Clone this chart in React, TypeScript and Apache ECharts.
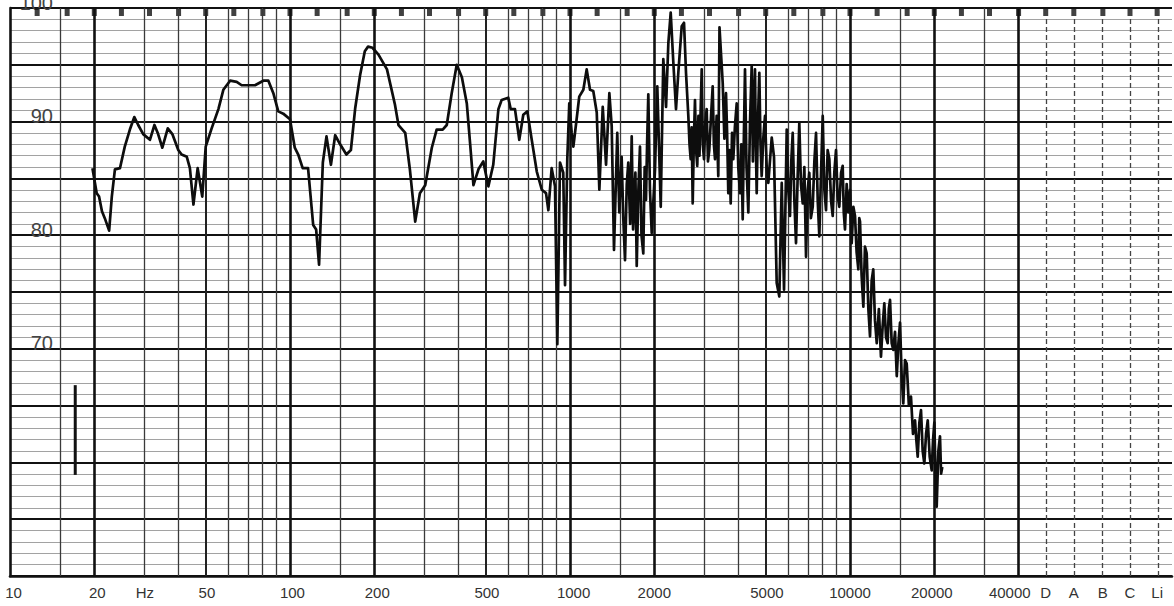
import React, { useEffect, useRef } from 'react';
import * as echarts from 'echarts';

// Frequency response trace as [frequency Hz, level dB]
const responseLow: number[][] = [
  [19.7, 85.9], [20.4, 83.7], [20.8, 83.4], [21.3, 82.1], [21.8, 81.5], [22.6, 80.4], [23.1, 83.4], [23.7, 85.8], [24.7, 85.9], [25.7, 87.8],
  [26.8, 89.3], [27.8, 90.4], [28.7, 89.7], [29.9, 88.9], [31.6, 88.4], [32.8, 89.7], [33.7, 89.0], [35.0, 87.7], [36.6, 89.4], [38.0, 88.9],
  [39.9, 87.5], [41.0, 87.1], [42.8, 86.9], [43.9, 85.9], [45.2, 82.7], [46.8, 85.9], [48.6, 83.4], [50.0, 87.8], [52.5, 89.4], [55.5, 91.1],
  [57.8, 92.8], [61.1, 93.6], [64.5, 93.5], [67.2, 93.2], [75.0, 93.2], [80.3, 93.6], [83.7, 93.6], [87.2, 92.5], [90.8, 90.9], [94.6, 90.7],
  [100, 90.2], [104, 87.7], [107, 87.1], [111, 85.9], [116, 85.9], [121, 80.9], [124, 80.5], [127, 77.4], [131, 86.4], [135, 88.7],
  [140, 86.2], [145, 88.8], [151, 88.0], [159, 87.1], [165, 87.5], [171, 91.2], [178, 94.1], [185, 96.2], [190, 96.6], [197, 96.5],
  [207, 95.9], [222, 94.6], [237, 91.5], [244, 89.7], [258, 89.0], [268, 85.8], [280, 81.2], [291, 83.7], [304, 84.4], [321, 87.7],
  [334, 89.3], [351, 89.3], [363, 89.7], [378, 92.5], [394, 95.0], [411, 93.9], [428, 91.6], [440, 88.0], [452, 84.4], [471, 85.8],
  [490, 86.5], [511, 84.3], [532, 86.2], [555, 91.1], [570, 91.9], [602, 92.1], [614, 91.1], [636, 91.1], [659, 88.4], [681, 90.6],
  [704, 90.9], [730, 88.4], [761, 85.6], [793, 84.0], [821, 83.7], [837, 82.2], [860, 85.9], [884, 84.3], [901, 70.4], [921, 86.4],
  [946, 85.5], [960, 75.6], [978, 86.7], [994, 91.6], [1014, 89.0], [1028, 87.8], [1050, 89.7], [1079, 92.2], [1116, 92.8], [1147, 94.6],
  [1179, 92.8], [1211, 92.7],
];
const responseMid: number[][] = [
  [1246, 90.8], [1273, 84.0], [1309, 91.3], [1345, 86.2], [1382, 92.5], [1409, 89.6], [1436, 78.7], [1475, 89.0], [1500, 82.0], [1529, 86.9],
  [1550, 81.5], [1572, 77.8], [1595, 84.5], [1615, 86.4], [1640, 81.0], [1661, 88.7], [1680, 80.5], [1693, 82.5], [1712, 85.5], [1731, 77.3],
  [1755, 84.0], [1778, 87.8], [1800, 80.0], [1827, 78.4], [1848, 86.0], [1868, 83.1], [1885, 88.0], [1904, 92.4], [1930, 84.0], [1958, 80.2],
  [2012, 85.8], [2050, 93.1], [2109, 82.5], [2154, 95.5], [2203, 91.3], [2245, 96.9], [2289, 99.6], [2339, 95.2], [2391, 91.1], [2437, 94.3],
  [2506, 98.4], [2554, 98.7], [2596, 94.3], [2646, 90.5], [2672, 88.0], [2698, 86.7], [2720, 89.5], [2743, 82.8], [2770, 88.5], [2795, 91.9],
  [2820, 87.5], [2848, 86.1], [2875, 90.5], [2900, 87.0], [2954, 94.6], [2980, 88.0], [3010, 86.7], [3045, 90.0], [3077, 91.1], [3110, 86.5],
  [3144, 87.5], [3190, 90.5], [3233, 93.1], [3265, 88.0], [3295, 86.7], [3340, 90.5], [3385, 85.2], [3419, 98.3], [3511, 93.4], [3560, 88.5],
  [3607, 92.5], [3640, 89.0], [3676, 83.7], [3710, 87.5], [3749, 82.8], [3790, 89.0], [3830, 86.7], [3880, 89.5], [3939, 91.6], [3990, 86.0],
  [4047, 83.7], [4090, 88.0], [4138, 81.4], [4180, 89.0], [4217, 94.6], [4270, 86.0], [4334, 82.0], [4395, 90.0], [4456, 94.9], [4500, 86.5],
  [4540, 92.0], [4578, 94.6], [4610, 88.0], [4643, 83.7], [4690, 90.0], [4744, 94.3], [4790, 88.0], [4837, 85.2], [4900, 88.5], [4971, 90.5],
  [5040, 86.0], [5108, 84.6], [5253, 88.6], [5353, 86.9], [5473, 75.8], [5592, 74.6], [5704, 84.6], [5813, 75.2],
];
const responseHigh: number[][] = [
  [5943, 89.3], [6020, 84.0], [6105, 81.7], [6170, 86.5], [6243, 89.0], [6330, 83.0], [6415, 79.3], [6500, 85.0], [6591, 89.9], [6680, 84.5],
  [6779, 82.8], [6870, 86.0], [6965, 78.1], [7060, 84.0], [7156, 85.5], [7250, 81.5], [7360, 82.5], [7460, 86.5], [7563, 89.0], [7670, 83.0],
  [7771, 79.9], [7880, 85.5], [7991, 90.5], [8100, 84.0], [8211, 82.2], [8320, 87.5], [8437, 86.7], [8560, 83.0], [8675, 81.7], [8790, 85.5],
  [8913, 87.5], [9030, 83.5], [9158, 82.5], [9290, 85.5], [9417, 86.1], [9500, 82.0], [9596, 80.5], [9730, 84.5], [9860, 82.0], [10000, 84.0],
  [10140, 79.3], [10280, 82.5], [10420, 81.7], [10560, 78.5], [10710, 77.0], [10790, 81.5], [10860, 81.2], [11000, 76.5], [11160, 73.7], [11310, 79.0],
  [11470, 78.4], [11630, 73.5], [11790, 71.1], [11950, 76.0], [12110, 77.0], [12280, 72.5], [12460, 70.5], [12680, 73.5], [12900, 69.3], [13080, 72.0],
  [13260, 74.0], [13450, 71.0], [13630, 70.5], [13760, 73.5], [13900, 74.3], [14090, 70.5], [14280, 69.9], [14480, 71.5], [14690, 67.6], [14890, 70.5],
  [15090, 72.3], [15300, 67.5], [15500, 65.2], [15720, 69.0], [15940, 68.7], [16230, 65.0], [16510, 65.8], [16790, 62.5], [17070, 63.7], [17250, 62.0],
  [17450, 60.5], [17690, 63.5], [17930, 64.6], [18180, 61.0], [18430, 59.9], [18690, 62.5], [18950, 63.7], [19260, 60.5], [19580, 59.3], [19800, 62.0],
  [20010, 63.5], [20200, 59.0], [20400, 56.1], [20680, 61.0], [20960, 62.3], [21150, 59.0], [21360, 59.6],
];

// calibration bar drawn at the left
const calibFreqHz = [17.1, 17.1];
const calibDb = [58.9, 66.8];

// chart-paper grid
const majorGridHz = [20, 100, 200, 1000, 2000, 10000, 20000, 40000];
const mediumGridHz = [50, 500, 5000];
const minorGridHz = [15, 30, 40, 60, 70, 80, 90, 150, 300, 400, 600, 700, 800, 900, 1500, 3000, 4000, 6000, 7000, 8000, 9000, 15000, 30000];
const weightingHz = [50000, 63000, 80000, 100000, 125000];
const thirdOctaveHz = [
  12.5, 16, 20, 25, 31.5, 40, 50, 63, 80, 100, 125, 160, 200, 250, 315, 400, 500, 630, 800, 1000,
  1250, 1600, 2000, 2500, 3150, 4000, 5000, 6300, 8000, 10000, 12500, 16000, 20000, 25000, 31500, 40000,
  50000, 63000, 80000, 100000, 125000,
];

// axis labels (anchor frequency of each printed label)
const xLabelHz = [10.3, 20.5, 30.3, 50.5, 102, 205, 505, 1030, 2000, 5050, 10000, 19600, 37200, 50000, 63000, 80000, 100000, 125000];
const xLabelText = ['10', '20', 'Hz', '50', '100', '200', '500', '1000', '2000', '5000', '10000', '20000', '40000', 'D', 'A', 'B', 'C', 'Li'];
const yLabelDb = [70, 80, 90, 100];

const X_MIN = 1; // log10(10 Hz)
const X_MAX = 5.15;

const lg = (f: number) => Math.log10(f);

export default function App() {
  const ref = useRef<HTMLDivElement>(null);
  useEffect(() => {
    if (!ref.current) return;
    const chart = echarts.init(ref.current, undefined, { renderer: 'svg' });

    const vLine = (f: number, color: string, width: number, type: any = 'solid') => ({
      xAxis: lg(f),
      lineStyle: { color, width, type },
    });
    const gridMarks = [
      ...minorGridHz.map((f) => vLine(f, '#3a3a3a', 1.3)),
      ...mediumGridHz.map((f) => vLine(f, '#222', 2)),
      ...majorGridHz.map((f) => vLine(f, '#111', 2.6)),
      ...weightingHz.map((f) => vLine(f, '#444', 1.3, [5, 3])),
    ];

    const labelPos = xLabelHz.map(lg);
    const response = [...responseLow, ...responseMid, ...responseHigh];

    chart.setOption({
      animation: false,
      backgroundColor: '#fff',
      grid: { left: 10, right: 2, top: 8, bottom: 30, containLabel: false, outerBoundsMode: 'none' },
      xAxis: {
        type: 'value',
        min: X_MIN,
        max: X_MAX,
        splitLine: { show: false },
        axisTick: { show: false },
        axisLine: { show: true, lineStyle: { color: '#111', width: 2.6 } },
        axisLabel: {
          customValues: labelPos,
          margin: 9,
          fontSize: 15,
          fontFamily: 'Liberation Sans, Arial, sans-serif',
          color: '#333',
          formatter: (v: number) => {
            let best = 0;
            let bd = Infinity;
            labelPos.forEach((p, i) => {
              const d = Math.abs(p - v);
              if (d < bd) { bd = d; best = i; }
            });
            return xLabelText[best];
          },
        },
      },
      yAxis: [
        {
          type: 'value',
          min: 50,
          max: 100,
          interval: 1,
          axisLine: { show: false },
          axisTick: { show: false },
          axisLabel: { show: false },
          splitLine: { show: true, lineStyle: { color: '#a2a2a2', width: 1.1 } },
        },
        {
          type: 'value',
          position: 'left',
          min: 50,
          max: 100,
          interval: 5,
          axisLine: { show: true, onZero: false, lineStyle: { color: '#111', width: 2.6 } },
          axisTick: { show: false },
          splitLine: { show: true, lineStyle: { color: '#111', width: 2.2 } },
          axisLabel: {
            inside: true,
            margin: 43,
            align: 'right',
            fontSize: 20,
            fontFamily: 'Liberation Sans, Arial, sans-serif',
            color: '#444',
            verticalAlign: 'bottom',
            lineHeight: 11,
            formatter: (v: number) => (yLabelDb.includes(v) ? String(v) : ''),
          },
        },
      ],
      series: [
        {
          type: 'line',
          name: 'grid',
          yAxisIndex: 0,
          data: calibFreqHz.map((f, i) => [lg(f), calibDb[i]]),
          showSymbol: false,
          lineStyle: { color: '#111', width: 3 },
          z: 3,
          markLine: {
            silent: true,
            symbol: ['none', 'none'],
            label: { show: false },
            data: gridMarks,
          },
        },
        {
          type: 'scatter',
          name: 'marks',
          yAxisIndex: 0,
          clip: false,
          symbol: 'rect',
          symbolSize: [5, 8],
          symbolOffset: [0, 4],
          itemStyle: { color: '#111' },
          data: thirdOctaveHz.map((f) => [lg(f), 100]),
          z: 4,
        },
        {
          type: 'line',
          name: 'response',
          yAxisIndex: 0,
          data: response.map(([f, db]) => [lg(f), db]),
          showSymbol: false,
          lineStyle: { color: '#0d0d0d', width: 2.7, join: 'round' },
          z: 5,
        },
      ],
    });
    return () => chart.dispose();
  }, []);
  return (
    <div
      ref={ref}
      style={{ position: 'absolute', left: 0, top: 0, width: 1174, height: 606, background: '#fff' }}
    />
  );
}
